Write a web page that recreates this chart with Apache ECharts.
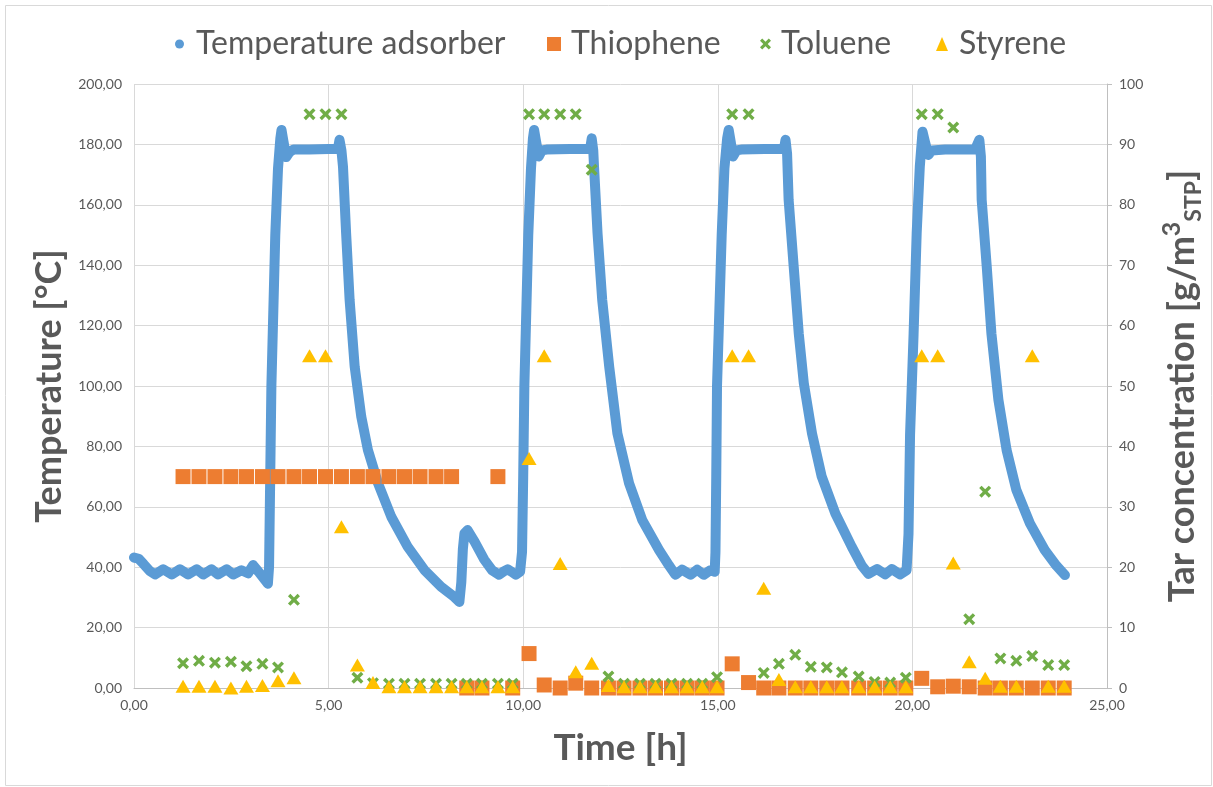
<!DOCTYPE html>
<html>
<head>
<meta charset="utf-8">
<script src="https://cdn.jsdelivr.net/npm/echarts@6/dist/echarts.min.js"></script>
<style>
html,body{margin:0;padding:0;background:#fff;}
#chart{width:1213px;height:787px;}
</style>
</head>
<body>
<div id="chart"></div>
<script>
// ---- Temperature adsorber (left axis, °C) ----
const tempTime = [0.00,0.12,0.25,0.40,0.54,0.75,0.97,1.18,1.39,1.61,1.78,1.99,2.16,2.38,2.55,2.76,2.93,3.06,3.20,3.38,3.44,3.47,3.50,3.53,3.58,3.63,3.70,3.76,3.79,3.84,3.91,4.00,4.10,4.50,5.00,5.24,5.28,5.33,5.37,5.45,5.54,5.67,5.84,6.01,6.27,6.61,7.03,7.46,7.89,8.20,8.36,8.41,8.45,8.49,8.57,8.75,9.00,9.20,9.38,9.50,9.60,9.70,9.81,9.92,9.97,10.00,10.03,10.08,10.13,10.20,10.25,10.28,10.33,10.40,10.48,10.60,11.20,11.72,11.76,11.80,11.82,11.91,12.03,12.21,12.42,12.72,13.06,13.49,13.75,13.91,14.08,14.30,14.47,14.64,14.81,14.92,14.94,14.96,14.98,15.04,15.10,15.17,15.24,15.28,15.33,15.39,15.48,15.60,16.20,16.70,16.74,16.78,16.82,16.95,17.08,17.21,17.42,17.67,18.02,18.44,18.70,18.87,19.09,19.30,19.47,19.68,19.85,19.90,19.94,20.03,20.11,20.19,20.26,20.32,20.41,20.50,20.84,21.61,21.72,21.76,21.78,21.91,22.03,22.21,22.42,22.67,23.02,23.40,23.70,23.92];
const tempValue = [43.2,42.8,41.0,38.8,37.6,39.3,37.6,39.3,37.6,39.3,37.6,39.3,37.6,39.3,37.6,39.0,38.0,40.7,38.5,35.5,34.5,40,70,100,125,150,172,182,184.8,181,175.8,177.5,178.3,178.3,178.5,178.5,181.5,178,172.6,150.6,128.5,106.4,89.8,78.8,67.8,56.7,46.8,39.1,33.5,30.5,28.5,35,46,51.2,52.3,48.5,42.5,39.0,37.5,38.6,39.3,38.5,37.5,38.5,45,70,100,125,150,172,182,184.8,181,176,178,178.3,178.5,178.5,182,178,172.6,150.6,128.5,106.4,84.3,67.8,55.6,45.7,40.5,37.5,39.2,37.5,39.2,37.5,39.0,38.5,45,70,100,125,150,172,182,184.8,181,176,178,178.3,178.5,178.5,181.5,177,161.6,139.5,117.4,100.9,84.3,70.0,57.8,46.8,40.5,37.8,39.4,37.6,39.4,37.6,39.0,51,84,117,150.6,172.6,184.2,181,176.5,178,178.3,178.3,181.5,176,161.6,139.5,117.4,95.4,78.8,65.6,54.5,45.7,40.5,37.4];

// ---- Tar measurements (right axis, g/m3 STP) ----
const sampleTimes = [1.26,1.67,2.08,2.49,2.89,3.30,3.70,4.11,4.51,4.92,5.33,5.74,6.14,6.55,6.95,7.35,7.76,8.16,8.55,8.94,9.35,9.73,10.15,10.54,10.95,11.35,11.76,12.19,12.59,13.00,13.40,13.81,14.21,14.60,14.98,15.37,15.79,16.18,16.57,16.99,17.39,17.80,18.19,18.62,19.03,19.43,19.83,20.24,20.65,21.05,21.46,21.87,22.26,22.67,23.08,23.49,23.90];
const thiophene = [35,35,35,35,35,35,35,35,35,35,35,35,35,35,35,35,35,35,0,0,35,0,5.7,0.5,0,0.8,0,0,0,0,0,0,0,0,0,4.0,0.9,0,0,0,0,0,0,0,0,0,0,1.6,0.2,0.3,0.2,0,0,0,0,0,0];
const toluene = [4.1,4.5,4.2,4.35,3.6,4.0,3.4,14.6,95,95,95,1.7,0.8,0.7,0.7,0.7,0.7,0.7,0.7,0.7,0.7,0.7,95,95,95,95,85.8,1.9,0.7,0.7,0.7,0.7,0.7,0.7,1.8,95,95,2.5,4.0,5.5,3.5,3.4,2.6,1.9,1.0,0.9,1.7,95,95,92.8,11.4,32.5,4.9,4.5,5.3,3.8,3.8];
const styrene = [0.3,0.3,0.3,0,0.3,0.4,1.2,1.7,55,55,26.7,3.8,0.9,0.2,0.2,0.2,0.2,0.2,0.2,0.2,0.2,0.2,38,55,20.6,2.7,4.1,0.4,0.2,0.2,0.2,0.2,0.2,0.2,0.2,55,55,16.5,1.4,0.2,0.2,0.2,0.2,0.2,0.2,0.2,0.2,55,55,20.7,4.35,1.6,0.3,0.3,55,0.3,0.3];

const seriesNames = ['Temperature adsorber','Thiophene','Toluene','Styrene'];
const colors = ['#5B9BD5','#ED7D31','#70AD47','#FFC000'];

const pair = (xs, ys) => xs.map((x, i) => [x, ys[i]]);
const comma2 = v => v.toFixed(2).replace('.', ',');
const FONT = 'Lato';
const GREY = '#595959';
const CROSS = 'path://M0,2L2,0L5,3L8,0L10,2L7,5L10,8L8,10L5,7L2,10L0,8L3,5Z';

const chart = echarts.init(document.getElementById('chart'), null, {renderer: 'canvas'});

function legendItem(name, icon, left, w, h, pad) {
  return {
    data: [{name: name, icon: icon}],
    left: left, top: 23,
    itemWidth: w, itemHeight: h,
    textStyle: {fontFamily: FONT, fontSize: 32, color: GREY, padding: [0, 0, 0, pad]},
    selectedMode: false
  };
}

const option = {
  backgroundColor: '#fff',
  animation: false,
  graphic: [{
    type: 'rect', left: 3, top: 3,
    shape: {width: 1206, height: 780},
    style: {fill: 'none', stroke: '#D9D9D9', lineWidth: 1}
  }],
  legend: [
    legendItem(seriesNames[0], 'circle', 170, 9, 9, 7),
    legendItem(seriesNames[1], 'rect', 542, 14, 14, 5),
    legendItem(seriesNames[2], CROSS, 755, 11, 11, 5),
    legendItem(seriesNames[3], 'triangle', 931, 12, 14, 6)
  ],
  grid: {left: 134, right: 104, top: 84, bottom: 99},
  xAxis: {
    type: 'value', min: 0, max: 25, interval: 5,
    name: 'Time [h]', nameLocation: 'middle', nameGap: 42,
    nameTextStyle: {fontFamily: FONT, fontSize: 37, fontWeight: 'bold', color: GREY},
    axisLine: {show: true, lineStyle: {color: '#BFBFBF'}},
    axisTick: {show: false},
    axisLabel: {formatter: comma2, fontFamily: FONT, fontSize: 14, color: GREY, margin: 10},
    splitLine: {show: true, lineStyle: {color: '#D9D9D9', width: 1}}
  },
  yAxis: [{
    type: 'value', min: 0, max: 200, interval: 20, position: 'left',
    name: 'Temperature [°C]', nameLocation: 'middle', nameGap: 60, nameRotate: 90,
    nameTextStyle: {fontFamily: FONT, fontSize: 36, fontWeight: 'bold', color: GREY},
    axisLine: {show: false},
    axisTick: {show: false},
    axisLabel: {formatter: comma2, fontFamily: FONT, fontSize: 14, color: GREY, margin: 12},
    splitLine: {show: true, lineStyle: {color: '#D9D9D9', width: 1}}
  }, {
    type: 'value', min: 0, max: 100, interval: 10, position: 'right',
    name: 'Tar concentration [g/m{sup|3}{sub|STP}]', nameLocation: 'middle', nameGap: 52, nameRotate: 90,
    nameTextStyle: {
      fontFamily: FONT, fontSize: 36, fontWeight: 'bold', color: GREY, lineHeight: 46,
      rich: {
        sup: {fontFamily: FONT, fontSize: 25, fontWeight: 'bold', color: GREY, verticalAlign: 'top', lineHeight: 25},
        sub: {fontFamily: FONT, fontSize: 23, fontWeight: 'bold', color: GREY, verticalAlign: 'bottom', lineHeight: 23}
      }
    },
    axisLine: {show: true, lineStyle: {color: '#BFBFBF'}},
    axisTick: {show: true, inside: false, length: 5, lineStyle: {color: '#BFBFBF'}},
    axisLabel: {fontFamily: FONT, fontSize: 14, color: GREY, margin: 12},
    splitLine: {show: false}
  }],
  series: [{
    name: seriesNames[0], type: 'line', yAxisIndex: 0,
    data: pair(tempTime, tempValue),
    showSymbol: false, symbol: 'circle',
    smooth: false,
    lineStyle: {color: colors[0], width: 10, cap: 'round', join: 'round'},
    itemStyle: {color: colors[0]},
    z: 2
  }, {
    name: seriesNames[1], type: 'scatter', yAxisIndex: 1,
    data: pair(sampleTimes, thiophene),
    symbol: 'rect', symbolSize: 15,
    itemStyle: {color: colors[1], opacity: 1},
    z: 3
  }, {
    name: seriesNames[2], type: 'scatter', yAxisIndex: 1,
    data: pair(sampleTimes, toluene),
    symbol: CROSS, symbolSize: 12,
    itemStyle: {color: colors[2], opacity: 1},
    z: 4
  }, {
    name: seriesNames[3], type: 'scatter', yAxisIndex: 1,
    data: pair(sampleTimes, styrene),
    symbol: 'triangle', symbolSize: [15, 13],
    itemStyle: {color: colors[3], opacity: 1},
    z: 5
  }]
};
chart.setOption(option);
</script>
</body>
</html>
